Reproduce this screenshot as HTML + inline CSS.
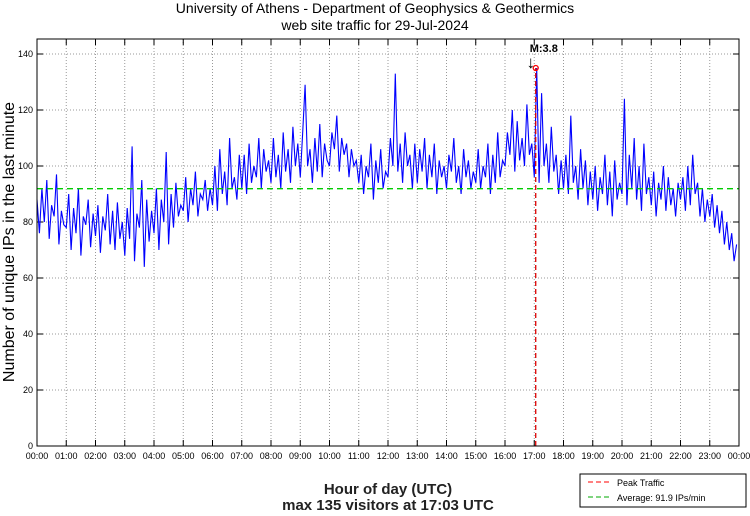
<!DOCTYPE html>
<html><head><meta charset="utf-8"><style>
body{margin:0;background:#fff;}
svg text{font-family:"Liberation Sans",sans-serif;}
</style></head><body>
<svg id="c" width="750" height="511" xmlns="http://www.w3.org/2000/svg">
<rect width="750" height="511" fill="#fff"/>
<text x="375" y="13" font-size="14" text-anchor="middle">University of Athens - Department of Geophysics &amp; Geothermics</text>
<text x="375" y="30" font-size="14" text-anchor="middle">web site traffic for 29-Jul-2024</text>
<g id="grid"></g>
<g id="series"></g>
<g id="overlay"></g>
<rect x="37" y="39" width="702" height="407" fill="none" stroke="#000" stroke-width="1"/>
<text transform="translate(14,242) rotate(-90)" font-size="16" text-anchor="middle">Number of unique IPs in the last minute</text>
<text x="388" y="494" font-size="15" font-weight="bold" text-anchor="middle" fill="#222">Hour of day (UTC)</text>
<text x="388" y="510" font-size="15" font-weight="bold" text-anchor="middle" fill="#222">max 135 visitors at 17:03 UTC</text>
<g>
<rect x="580" y="474" width="166" height="33" fill="#fff" stroke="#000"/>
<line x1="588" y1="482" x2="612" y2="482" stroke="#f00" stroke-dasharray="5,3"/>
<text x="617" y="486" font-size="9">Peak Traffic</text>
<line x1="588" y1="497" x2="612" y2="497" stroke="#0a0" stroke-dasharray="5,3"/>
<text x="617" y="501" font-size="9">Average: 91.9 IPs/min</text>
</g>
</svg>
<script>
const xTickLabels=["00:00","01:00","02:00","03:00","04:00","05:00","06:00","07:00","08:00","09:00","10:00","11:00","12:00","13:00","14:00","15:00","16:00","17:00","18:00","19:00","20:00","21:00","22:00","23:00","00:00"];
const yTicks=[0,20,40,60,80,100,120,140];
const averageValue=91.9;
const peakMinute=1023;
const peakValue=135;
const minutesPerPoint=5;
const traffic=[
88,76,92,80,95,74,86,82,97,72,84,79,
78,90,70,85,76,92,68,82,79,88,71,83,
75,86,69,82,77,90,72,84,70,87,74,80,
68,85,74,107,66,83,78,95,64,88,73,84,
76,92,70,88,80,105,72,90,78,94,82,86,
84,96,80,92,86,98,82,90,88,95,84,92,
86,100,84,106,90,98,86,110,92,96,88,104,
92,104,90,108,94,100,96,110,92,106,98,102,
94,110,96,104,92,112,98,106,94,114,100,108,
96,112,129,100,106,94,110,98,115,96,108,102,
100,112,106,118,98,110,104,108,96,106,100,102,
94,104,90,100,96,108,88,102,94,106,92,98,
96,110,100,133,98,108,94,112,100,104,92,108,
94,106,98,110,92,104,96,108,90,102,96,100,
92,104,98,110,94,100,90,106,96,102,92,98,
94,106,92,100,96,108,90,104,94,112,96,102,
100,112,104,120,98,116,102,110,100,122,104,108,
96,135,94,126,100,108,94,114,98,104,90,102,
92,104,90,118,94,100,88,106,92,102,86,98,
88,100,84,96,90,104,86,98,82,102,88,94,
90,124,86,104,92,110,88,100,84,108,90,96,
86,98,82,94,88,100,84,96,86,92,82,94,
88,96,84,100,86,104,90,94,82,92,80,88,
82,90,78,86,76,84,72,80,70,76,66,72];
const NS="http://www.w3.org/2000/svg";
const L=37,R=739,T=39,B=446;
const xs=m=>L+(R-L)*m/1440;
const ys=v=>B-(B-T)*v/145.36;
function mk(tag,attrs,parent){const e=document.createElementNS(NS,tag);for(const k in attrs)e.setAttribute(k,attrs[k]);parent.appendChild(e);return e;}
const grid=document.getElementById('grid');
xTickLabels.forEach((lab,i)=>{const x=xs(i*60);
 if(i>0&&i<24){const g=mk('line',{x1:x,y1:T,x2:x,y2:B,stroke:'#999','stroke-dasharray':'1,2'},grid);
 }
 mk('line',{x1:x,y1:B,x2:x,y2:B-6,stroke:'#000'},grid);mk('line',{x1:x,y1:T,x2:x,y2:T+6,stroke:'#000'},grid);
 const t=mk('text',{x:x,y:B+13,'font-size':9,'text-anchor':'middle'},grid);t.textContent=lab;
 });
yTicks.forEach(v=>{const y=ys(v);
 if(v>0){const g=mk('line',{x1:L,y1:y,x2:R,y2:y,stroke:'#999','stroke-dasharray':'1,2'},grid);
 }
 mk('line',{x1:L,y1:y,x2:L+6,y2:y,stroke:'#000'},grid);mk('line',{x1:R,y1:y,x2:R-6,y2:y,stroke:'#000'},grid);
 const t=mk('text',{x:L-4,y:y+3,'font-size':9,'text-anchor':'end'},grid);t.textContent=v;
 });
const pts=traffic.map((v,i)=>xs(i*minutesPerPoint).toFixed(1)+','+ys(v).toFixed(1)).join(' ');
const line=mk('polyline',{points:pts,fill:'none',stroke:'#00f','stroke-width':1.1},document.getElementById('series'));


const ov=document.getElementById('overlay');
const avg=mk('line',{x1:L,y1:ys(averageValue),x2:R,y2:ys(averageValue),stroke:'#0c0','stroke-width':1.3,'stroke-dasharray':'6,4'},ov);


const px=xs(peakMinute),py=ys(peakValue);
const pk=mk('line',{x1:px,y1:B,x2:px,y2:py,stroke:'#d00','stroke-width':1.3,'stroke-dasharray':'5,3'},ov);


const pc=mk('circle',{cx:px,cy:py,r:2.5,fill:'none',stroke:'#f00','stroke-width':1.3},ov);


const ar=mk('text',{x:px-5,y:py,'font-size':17,'text-anchor':'middle'},ov);ar.textContent='↓';


const lb=mk('text',{x:px-6,y:py-16,'font-size':11,'font-weight':'bold'},ov);lb.textContent='M:3.8';


</script>
</body></html>
